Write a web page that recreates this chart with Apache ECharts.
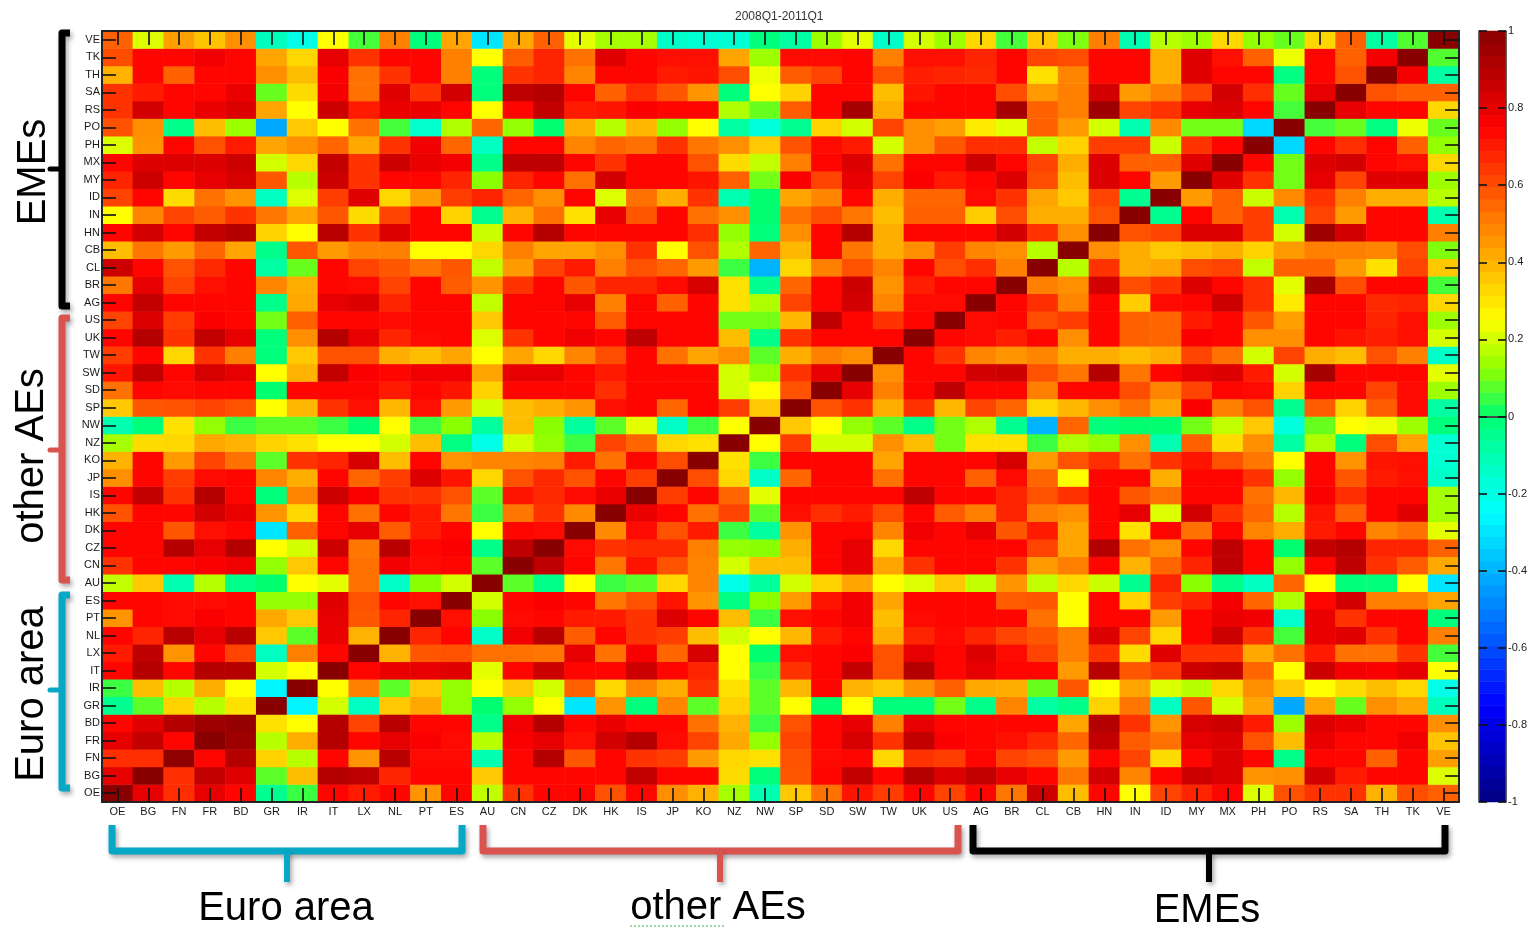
<!DOCTYPE html>
<html><head><meta charset="utf-8">
<script src="https://cdn.jsdelivr.net/npm/echarts@6/dist/echarts.min.js"></script>
<style>html,body{margin:0;padding:0;background:#fff}#c{width:1530px;height:928px}#c canvas{filter:blur(.5px)}</style>
</head><body><div id="c"></div>
<script>
const countries = ['OE','BG','FN','FR','BD','GR','IR','IT','LX','NL','PT','ES','AU','CN','CZ','DK','HK','IS','JP','KO','NZ','NW','SP','SD','SW','TW','UK','US','AG','BR','CL','CB','HN','IN','ID','MY','MX','PH','PO','RS','SA','TH','TK','VE'];
const chartTitle = '2008Q1-2011Q1';
const jetStops = ['#000080','#0000c0','#0000ff','#0040ff','#0080ff','#00c0ff','#00ffff','#00ffc0','#00ff70','#90ff00','#ffff00','#ffc000','#ff8000','#ff4000','#ff0000','#c00000','#880000'];

// Correlations: each row runs from OE up to the country itself (the matrix is symmetric)
const rowOE=[1];
const rowBG=[.8,1];
const rowFN=[.66,.66,.98];
const rowFR=[.8,.87,.74,1];
const rowBD=[.74,.81,.9,.95,.97];
const rowGR=[-.05,.08,.34,.17,.31,1];
const rowIR=[.05,.38,.17,.41,.25,-.27,1];
const rowIT=[.74,.9,.74,.9,.9,.2,.25,1];
const rowLX=[.7,.88,.46,.74,.62,-.13,.5,.74,1];
const rowNL=[.74,.68,.89,.8,.89,.36,.08,.79,.4,1];
const rowPT=[.46,.74,.73,.76,.74,.42,.36,.8,.58,.68,1];
const rowES=[.74,.74,.73,.73,.74,.13,.13,.81,.59,.74,.72,1];
const rowAU=[.18,.36,-.1,.17,-.04,0,.25,.22,.53,-.14,.12,.2,1];
const rowCN=[.65,.74,.74,.76,.78,.13,.36,.74,.53,.78,.73,.74,.08,1];
const rowCZ=[.74,.74,.9,.8,.9,.25,.2,.85,.52,.89,.74,.76,-.04,.88,1];
const rowDK=[.74,.74,.58,.72,.74,-.3,.56,.74,.8,.57,.7,.74,.25,.74,.73,1];
const rowHK=[.59,.74,.74,.84,.79,.46,.33,.74,.53,.74,.7,.52,.05,.52,.65,.48,1];
const rowIS=[.74,.87,.65,.9,.74,-.02,.49,.85,.76,.65,.65,.59,.08,.71,.67,.73,.79,1];
const rowJP=[.47,.74,.63,.73,.74,.49,.41,.74,.55,.63,.82,.71,.33,.59,.67,.59,.74,.63,1];
const rowKO=[.4,.74,.45,.62,.53,.08,.65,.68,.83,.38,.74,.46,.49,.49,.5,.7,.53,.74,.6,1];
const rowNZ=[.15,.32,.33,.42,.4,.34,.31,.25,.25,.2,.38,-.03,-.2,.2,.13,.05,.62,.55,.33,.31,1];
const rowNW=[-.1,-.02,.31,.13,.05,.08,.08,.05,0,.25,.05,.12,-.07,.38,.12,-.07,.08,.22,-.14,.05,.25,1];
const rowSP=[.36,.58,.59,.62,.59,.25,.39,.65,.72,.39,.72,.45,.2,.38,.41,.46,.72,.74,.55,.74,.63,.36,1];
const rowSD=[.53,.74,.73,.74,.74,0,.74,.74,.74,.7,.74,.71,.34,.74,.74,.74,.66,.74,.74,.74,.2,.25,.59,1];
const rowSW=[.71,.87,.74,.83,.8,.25,.4,.87,.76,.74,.78,.78,.43,.8,.8,.74,.7,.74,.74,.74,.2,.13,.65,.8,1];
const rowTW=[.63,.74,.33,.65,.5,-.02,.36,.59,.59,.41,.38,.43,.25,.43,.33,.49,.6,.74,.53,.43,.47,.08,.41,.5,.47,1];
const rowUK=[.74,.9,.65,.87,.8,-.02,.47,.9,.8,.68,.73,.74,.21,.65,.74,.78,.74,.88,.74,.74,.38,-.04,.65,.74,.74,.74,1];
const rowUS=[.62,.82,.63,.76,.74,.1,.56,.74,.74,.73,.74,.74,.36,.74,.74,.74,.57,.74,.74,.74,.1,.1,.39,.88,.74,.65,.74,1];
const rowAG=[.74,.87,.74,.74,.74,-.04,.42,.8,.82,.68,.74,.74,.18,.74,.74,.8,.5,.74,.56,.74,.31,.16,.62,.74,.84,.49,.73,.73,1];
const rowBR=[.52,.8,.62,.72,.74,.49,.41,.74,.73,.62,.74,.57,.46,.65,.74,.58,.68,.68,.73,.83,.31,-.05,.55,.74,.85,.46,.69,.74,.74,1];
const rowCL=[.85,.74,.59,.67,.74,-.08,.09,.74,.62,.58,.53,.58,.18,.45,.62,.7,.5,.59,.55,.45,.05,-.4,.33,.5,.59,.49,.74,.6,.66,.5,1];
const rowCB=[.38,.52,.45,.55,.43,-.04,.58,.45,.5,.5,.25,.25,.33,.5,.43,.43,.47,.65,.25,.59,.16,.55,.39,.74,.52,.41,.47,.63,.49,.47,.17,1];
const rowHN=[.74,.84,.74,.87,.9,.34,.25,.89,.65,.82,.74,.74,.19,.74,.9,.74,.74,.74,.74,.66,.13,-.02,.47,.74,.9,.41,.74,.74,.74,.84,.65,.47,1];
const rowIN=[.25,.49,.62,.57,.65,.52,.43,.58,.32,.62,.74,.34,-.05,.4,.53,.31,.8,.58,.74,.53,.47,0,.53,.6,.52,.38,.56,.56,.35,.6,.41,.41,.59,1];
const rowID=[.62,.74,.32,.53,.46,-.13,.21,.63,.81,.33,.45,.63,.68,.55,.47,.74,.21,.53,.41,.65,-.1,0,.43,.49,.74,.41,.55,.55,.73,.65,.43,.36,.62,-.05,1];
const rowMY=[.68,.85,.74,.8,.83,.58,.17,.85,.65,.74,.74,.68,.12,.68,.74,.53,.84,.74,.74,.71,.56,.1,.76,.62,.8,.62,.76,.7,.74,.82,.6,.38,.82,.74,.45,1];
const rowMX=[.74,.82,.82,.82,.85,.2,.33,.87,.65,.85,.79,.77,-.04,.88,.88,.74,.65,.74,.74,.59,.32,.18,.5,.74,.82,.53,.74,.74,.85,.74,.62,.41,.82,.56,.56,.81,1];
const rowPH=[.21,.46,.74,.59,.7,.43,.47,.55,.42,.65,.78,.55,-.13,.74,.74,.49,.55,.53,.65,.52,.47,.36,.59,.73,.7,.2,.47,.58,.66,.66,.18,.34,.63,.63,.19,.65,.74,1];
const rowPO=[.59,.47,-.04,.38,.14,-.42,.36,.25,.53,.06,-.15,.16,.55,.13,0,.41,.17,.39,.13,.25,-.08,-.18,-.05,.34,.2,.62,.47,.44,.29,.22,.56,.45,.2,-.1,.48,.1,.1,-.33,1];
const rowRS=[.65,.84,.74,.79,.82,.43,.25,.85,.7,.79,.79,.74,.25,.74,.87,.7,.71,.76,.74,.74,.16,.09,.57,.74,.93,.41,.74,.74,.74,.93,.56,.5,.95,.62,.65,.8,.82,.74,.06,1];
const rowSA=[.65,.7,.74,.74,.79,.09,.32,.77,.53,.81,.65,.84,-.02,.88,.9,.74,.56,.66,.58,.46,-.02,.25,.34,.74,.74,.38,.71,.74,.74,.6,.45,.5,.84,.45,.5,.62,.84,.66,.09,.8,1];
const rowTH=[.4,.74,.56,.74,.74,.47,.38,.76,.53,.65,.74,.5,-.02,.65,.68,.49,.74,.74,.7,.71,.6,.23,.57,.62,.74,.59,.69,.68,.67,.74,.31,.49,.74,.74,.41,.81,.74,.74,-.03,.74,.59,1];
const rowTK=[.6,.74,.74,.78,.74,.43,.33,.8,.65,.74,.74,.5,.25,.57,.68,.53,.81,.74,.72,.72,.43,.14,.73,.73,.74,.5,.72,.72,.68,.74,.62,.6,.74,.74,.41,.81,.72,.56,.23,.74,.56,.77,1];
const rowVE=[.56,.21,.44,.37,.47,-.12,-.2,.25,.06,.5,-.02,.43,-.3,.42,.56,.22,.15,.15,-.14,-.16,-.16,-.02,-.08,.14,.22,-.14,.2,.14,.33,.06,.36,.11,.5,-.1,.17,.14,.33,.13,.09,.33,.56,-.08,.07,1];

const rows=[rowOE,rowBG,rowFN,rowFR,rowBD,rowGR,rowIR,rowIT,rowLX,rowNL,rowPT,rowES,rowAU,rowCN,rowCZ,rowDK,rowHK,rowIS,rowJP,rowKO,rowNZ,rowNW,rowSP,rowSD,rowSW,rowTW,rowUK,rowUS,rowAG,rowBR,rowCL,rowCB,rowHN,rowIN,rowID,rowMY,rowMX,rowPH,rowPO,rowRS,rowSA,rowTH,rowTK,rowVE];

const cells=[];
countries.forEach((_,r)=>countries.forEach((_,c)=>{
  cells.push([c,r,r>=c?rows[r][c]:rows[c][r]]);
}));

// colour bar: the 64 levels of the colormap
const levels=[];for(let i=0;i<64;i++)levels.push(-1+(i+.5)/32);
const barCells=levels.map((v,i)=>[0,i,v]);

const ink='#1a1a1a', labelFont='"Liberation Sans",Arial,sans-serif';
const tickStyle={show:true,inside:true,length:14,alignWithLabel:true,interval:0,lineStyle:{color:'#111',width:1.6}};
const frame={lineStyle:{color:'#222',width:2}};
const blue='#06a8c6',red='#d9534f',black='#000';
const shadow={shadowColor:'rgba(0,0,0,.35)',shadowBlur:5,shadowOffsetX:2,shadowOffsetY:3};

function bracketH(x0,x1,col){return {type:'polyline',z:5,shape:{points:[[x0,825],[x0,851],[x1,851],[x1,825]]},style:{stroke:col,lineWidth:7,fill:null,lineJoin:'round',...shadow}};}
function stemH(xm,col){return {type:'line',z:5,shape:{x1:xm,y1:851,x2:xm,y2:882},style:{stroke:col,lineWidth:6,...shadow}};}
function bracketV(y0,y1,ym,col){return [
 {type:'polyline',z:5,shape:{points:[[70,y0],[62,y0],[62,y1],[70,y1]]},style:{stroke:col,lineWidth:7,fill:null,lineJoin:'round',...shadow}},
 {type:'line',z:5,shape:{x1:50,y1:ym,x2:62,y2:ym},style:{stroke:col,lineWidth:5,lineCap:'round'}}
];}
const bigFont='40px "Liberation Sans",Arial,sans-serif';
function bigText(t,x,y,rot){return {type:'text',z:6,x,y,rotation:rot?Math.PI/2:0,style:{text:t,fill:'#000',font:bigFont,textAlign:'center',textVerticalAlign:'middle'}};}

const chart=echarts.init(document.getElementById('c'),null,{renderer:'canvas'});
chart.setOption({
  animation:false,
  backgroundColor:'#fff',
  title:{text:chartTitle,left:730,top:6,textStyle:{fontSize:12,fontWeight:'normal',color:'#333',fontFamily:labelFont}},
  grid:[
    {left:102,top:31,width:1357,height:771},
    {left:1479,top:31,width:28,height:771}
  ],
  xAxis:[
    {gridIndex:0,type:'category',data:countries,position:'bottom',z:10,axisLine:frame,axisTick:tickStyle,splitLine:{show:false},
     axisLabel:{interval:0,fontSize:11,color:ink,fontFamily:labelFont,margin:4}},
    {gridIndex:0,type:'category',data:countries,position:'top',z:10,axisLine:frame,axisTick:tickStyle,axisLabel:{show:false},splitLine:{show:false}},
    {gridIndex:1,type:'category',data:['c'],position:'bottom',z:10,axisLine:{lineStyle:{color:'#444',width:1.5}},axisTick:{show:false},axisLabel:{show:false}},
    {gridIndex:1,type:'category',data:['c'],position:'top',z:10,axisLine:{lineStyle:{color:'#444',width:1.5}},axisTick:{show:false},axisLabel:{show:false}}
  ],
  yAxis:[
    {gridIndex:0,type:'category',data:countries,position:'left',z:10,axisLine:frame,axisTick:tickStyle,splitLine:{show:false},
     axisLabel:{interval:0,fontSize:11,color:ink,fontFamily:labelFont,margin:2,padding:[0,0,8,0]}},
    {gridIndex:0,type:'category',data:countries,position:'right',z:10,axisLine:frame,axisTick:tickStyle,axisLabel:{show:false},splitLine:{show:false}},
    {gridIndex:1,type:'category',data:levels.map(String),show:false},
    {gridIndex:1,type:'value',position:'right',min:-1,max:1,interval:0.2,z:10,axisLine:{show:true,lineStyle:{color:'#444',width:1.5}},
     axisTick:{show:true,inside:true,length:8,lineStyle:{color:'#111',width:1.6}},splitLine:{show:false},
     axisLabel:{margin:2,fontSize:11,color:ink,fontFamily:labelFont,padding:[0,0,3,0],formatter:v=>String(Math.round(v*10)/10)}},
    {gridIndex:1,type:'value',position:'left',min:-1,max:1,interval:0.2,z:10,axisLine:{show:true,lineStyle:{color:'#444',width:1.5}},
     axisTick:{show:true,inside:true,length:8,lineStyle:{color:'#111',width:1.6}},axisLabel:{show:false},splitLine:{show:false}}
  ],
  visualMap:{show:false,type:'continuous',min:-1,max:1,dimension:2,seriesIndex:[0,1],inRange:{color:jetStops}},
  series:[
    {type:'heatmap',xAxisIndex:0,yAxisIndex:0,data:cells,progressive:0,itemStyle:{borderWidth:0},emphasis:{disabled:true}},
    {type:'heatmap',xAxisIndex:2,yAxisIndex:2,data:barCells,progressive:0,itemStyle:{borderWidth:0},emphasis:{disabled:true}}
  ],
  graphic:[
    bracketH(112,462,blue),stemH(287,blue),
    bracketH(483,958,red),stemH(720,red),
    bracketH(973,1445,black),stemH(1209,black),
    ...bracketV(33,306,169,black),
    ...bracketV(318,580,450,red),
    ...bracketV(595,788,690,blue),
    bigText('Euro area',286,909),
    bigText('other AEs',718,908),
    bigText('EMEs',1207,911),
    {type:'line',z:5,shape:{x1:630,y1:926,x2:725,y2:926},style:{stroke:'#3cb44b',lineWidth:1,lineDash:[2,2]}},
    bigText('EMEs',34,172,true),
    bigText('other AEs',32,456,true),
    bigText('Euro area',32,694,true)
  ]
});
</script></body></html>
